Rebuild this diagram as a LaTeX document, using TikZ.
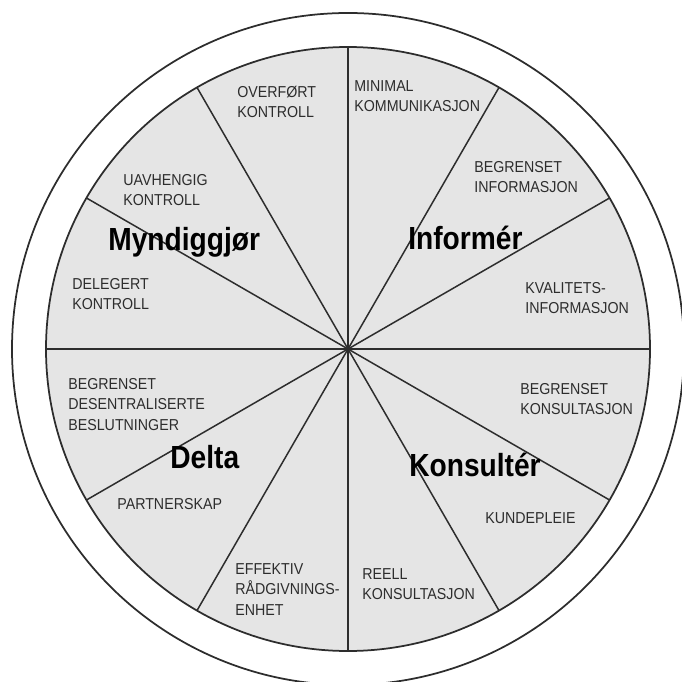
\documentclass[tikz,border=0pt]{standalone}
\usepackage{fontspec}
\setmainfont{Liberation Sans}
\newfontfamily\smallfont[FakeStretch=0.9]{Liberation Sans}
\newfontfamily\bigfont[FakeStretch=0.88]{Liberation Sans Bold}
\definecolor{wheel}{RGB}{229,229,229}
\definecolor{rim}{RGB}{45,45,45}
\tikzset{
	lab/.style={anchor=base west,inner sep=0pt,align=left,text=rim,font=\smallfont\fontsize{9}{11.6}\selectfont},
	head/.style={anchor=base west,inner sep=0pt,font=\bigfont\fontsize{18.2}{20}\selectfont},
	spoke/.style={rim,line width=0.3mm}
}

\begin{document}
\begin{tikzpicture}[x=0.02cm,y=-0.02cm]
			\useasboundingbox (0,0) rectangle (681,682);
			\coordinate (O) at (348,349);

			\draw[rim,line width=0.35mm] (O) circle (336);
			\draw[rim,fill=wheel,line width=0.35mm] (O) circle (302);

			\draw[spoke] (O) -- +(0:302) (O) -- +(180:302);
			\draw[spoke] (O) -- +(30:302) (O) -- +(210:302);
			\draw[spoke] (O) -- +(60:302) (O) -- +(240:302);
			\draw[spoke] (O) -- +(90:302) (O) -- +(270:302);
			\draw[spoke] (O) -- +(120:302) (O) -- +(300:302);
			\draw[spoke] (O) -- +(150:302) (O) -- +(330:302);

			% base anchor sits on the last line
			\node[lab] (T1) at (237,117.5) {OVERFØRT\\KONTROLL};
			\node[lab] (T2) at (354,111.5) {MINIMAL\\KOMMUNIKASJON};
			\node[lab] (T3) at (474,192.5) {BEGRENSET\\INFORMASJON};
			\node[lab] (T4) at (525,313.5) {KVALITETS-\\INFORMASJON};
			\node[lab] (T5) at (520,414.5) {BEGRENSET\\KONSULTASJON};
			\node[lab] (T6) at (485,523) {KUNDEPLEIE};
			\node[lab] (T7) at (362,599.5) {REELL\\KONSULTASJON};
			\node[lab] (T8) at (235,615) {EFFEKTIV\\RÅDGIVNINGS-\\ENHET};
			\node[lab] (T9) at (117,509) {PARTNERSKAP};
			\node[lab] (T10) at (68,430) {BEGRENSET\\DESENTRALISERTE\\BESLUTNINGER};
			\node[lab] (T11) at (72,309.5) {DELEGERT\\KONTROLL};
			\node[lab] (T12) at (123,205.5) {UAVHENGIG\\KONTROLL};

			\node[head] (H1) at (108,250) {Myndiggjør};
			\node[head] (H2) at (408,249) {Informér};
			\node[head] (H3) at (170,468) {Delta};
			\node[head] (H4) at (409,476) {Konsultér};
		\end{tikzpicture}
\end{document}
